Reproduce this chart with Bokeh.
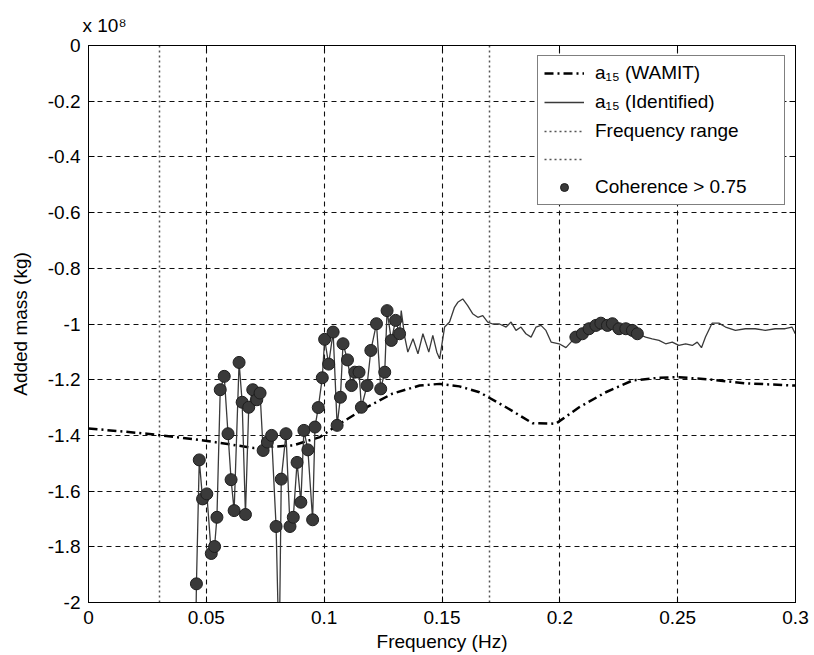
from bokeh.plotting import figure
from bokeh.models import (FixedTicker, LinearAxis, Legend, LegendItem,
                          Range1d, CustomLabelingPolicy)
from bokeh.embed import file_html
from bokeh.resources import INLINE

# ---------------- data (added mass in units of 1e8 kg) ----------------
wamit_freq = [0.0, 0.0248, 0.0488, 0.070, 0.0868, 0.0982, 0.1066, 0.118, 0.129,
              0.1405, 0.149, 0.1574, 0.1659, 0.1772, 0.1884, 0.1983, 0.2082,
              0.2195, 0.2308, 0.2421, 0.2505, 0.2646, 0.2787, 0.3]
wamit_val = [-1.375, -1.394, -1.418, -1.445, -1.436, -1.406, -1.358, -1.299, -1.25,
             -1.221, -1.215, -1.224, -1.245, -1.299, -1.356, -1.358, -1.299,
             -1.245, -1.203, -1.193, -1.191, -1.200, -1.213, -1.221]

ident_freq = [0.0452, 0.0458, 0.0470, 0.0484, 0.0502, 0.0521, 0.0535, 0.0545, 0.0559,
              0.0576, 0.0592, 0.0605, 0.0618, 0.0639, 0.0652, 0.0666, 0.0680, 0.0697,
              0.0714, 0.0728, 0.0741, 0.0759, 0.0777, 0.0796, 0.0809, 0.0818, 0.0838,
              0.0855, 0.0869, 0.0885, 0.0901, 0.0914, 0.0931, 0.0951, 0.0961, 0.0975,
              0.0992, 0.1002, 0.1019, 0.1038, 0.1055, 0.1069, 0.1080, 0.1099, 0.1116,
              0.1130, 0.1148, 0.1158, 0.1182, 0.1198, 0.1222, 0.1240, 0.1257, 0.1267,
              0.1285, 0.1303, 0.1320, 0.1327, 0.1342, 0.1355, 0.1377, 0.1398, 0.1419,
              0.1444, 0.1461, 0.1478, 0.1490, 0.1511, 0.1532, 0.1553, 0.1567, 0.1588,
              0.1609, 0.1630, 0.1652, 0.1673, 0.1694, 0.1715, 0.1744, 0.1772, 0.1793,
              0.1814, 0.1835, 0.1856, 0.1878, 0.1899, 0.1920, 0.1941, 0.1963, 0.1997,
              0.2026, 0.2054, 0.2068, 0.2096, 0.2124, 0.2153, 0.2174, 0.2202, 0.2223,
              0.2251, 0.2280, 0.2308, 0.2329, 0.2364, 0.2392, 0.2421, 0.2449, 0.2477,
              0.2505, 0.2534, 0.2562, 0.2583, 0.2601, 0.2618, 0.2646, 0.2675, 0.2703,
              0.2745, 0.2787, 0.2829, 0.2872, 0.2914, 0.2956, 0.2985, 0.2999]
ident_val = [-2.30, -1.933, -1.488, -1.628, -1.610, -1.824, -1.799, -1.694, -1.236,
             -1.188, -1.394, -1.559, -1.670, -1.138, -1.281, -1.684, -1.299, -1.236,
             -1.272, -1.248, -1.454, -1.424, -1.400, -1.727, -2.20, -1.557, -1.394,
             -1.727, -1.694, -1.497, -1.640, -1.382, -1.452, -1.703, -1.370, -1.300,
             -1.193, -1.055, -1.144, -1.029, -1.364, -1.263, -1.071, -1.129, -1.221,
             -1.173, -1.173, -1.299, -1.221, -1.095, -0.999, -1.233, -1.173, -0.952,
             -1.059, -0.987, -1.035, -0.952, -1.047, -1.101, -1.053, -1.107, -1.035,
             -1.101, -1.041, -1.101, -1.125, -1.011, -0.993, -0.940, -0.922, -0.910,
             -0.934, -0.963, -0.976, -0.970, -0.993, -1.000, -1.000, -1.011, -0.993,
             -1.023, -1.011, -1.035, -1.047, -1.011, -1.005, -1.023, -1.065, -1.071,
             -1.085, -1.059, -1.047, -1.035, -1.017, -1.005, -0.997, -1.005, -0.999,
             -1.017, -1.017, -1.023, -1.035, -1.047, -1.053, -1.059, -1.071, -1.065,
             -1.077, -1.071, -1.077, -1.065, -1.085, -1.047, -0.997, -0.997, -1.011,
             -1.023, -1.017, -1.017, -1.023, -1.017, -1.017, -1.011, -1.035]
# 1 = coherence > 0.75 (marked with a dot)
coherent = [0, 1, 1, 1, 1, 1, 1, 1, 1,
            1, 1, 1, 1, 1, 1, 1, 1, 1,
            1, 1, 1, 1, 1, 1, 0, 1, 1,
            1, 1, 1, 1, 1, 1, 1, 1, 1,
            1, 1, 1, 1, 1, 1, 1, 1, 1,
            1, 1, 1, 1, 1, 1, 1, 1, 1,
            1, 1, 1, 0, 0, 0, 0, 0, 0,
            0, 0, 0, 0, 0, 0, 0, 0, 0,
            0, 0, 0, 0, 0, 0, 0, 0, 0,
            0, 0, 0, 0, 0, 0, 0, 0, 0,
            0, 0, 1, 1, 1, 1, 1, 1, 1,
            1, 1, 1, 1, 0, 0, 0, 0, 0,
            0, 0, 0, 0, 0, 0, 0, 0, 0,
            0, 0, 0, 0, 0, 0, 0, 0]

freq_range = [0.03, 0.17]

x_ticks = [0.0, 0.05, 0.1, 0.15, 0.2, 0.25, 0.3]
x_labels = ["0", "0.05", "0.1", "0.15", "0.2", "0.25", "0.3"]
y_ticks = [-2.0, -1.8, -1.6, -1.4, -1.2, -1.0, -0.8, -0.6, -0.4, -0.2, 0.0]
y_labels = ["-2", "-1.8", "-1.6", "-1.4", "-1.2", "-1", "-0.8", "-0.6", "-0.4", "-0.2", "0"]

FONT = "Liberation Sans"

# ---------------- figure ----------------
p = figure(width=814, height=655, output_backend="svg", toolbar_location=None,
           x_range=Range1d(0, 0.3), y_range=Range1d(-2, 0),
           min_border_left=88, min_border_right=17, min_border_top=45,
           min_border_bottom=53)
p.background_fill_color = "white"
p.border_fill_color = "white"
p.outline_line_color = "black"
p.outline_line_width = 1

p.title.text = "x 10\u2078"
p.title.align = "left"
p.title.offset = -6
p.title.text_font = FONT
p.title.text_font_size = "19px"
p.title.text_font_style = "normal"
p.title.text_color = "black"
p.title.standoff = 3

for ax, ticks, labels in ((p.xaxis[0], x_ticks, x_labels), (p.yaxis[0], y_ticks, y_labels)):
    ax.ticker = FixedTicker(ticks=ticks)
    ax.major_label_overrides = {t: l for t, l in zip(ticks, labels)}
    ax.minor_tick_line_color = None
    ax.major_tick_in = 6
    ax.major_tick_out = 0
    ax.major_label_text_font = FONT
    ax.major_label_text_font_size = "19px"
    ax.major_label_text_color = "black"
    ax.axis_label_text_font = FONT
    ax.axis_label_text_font_size = "19px"
    ax.axis_label_text_font_style = "normal"
    ax.axis_label_text_color = "black"
    ax.axis_line_color = "black"
    ax.major_tick_line_color = "black"

p.xaxis[0].axis_label = "Frequency (Hz)"
p.xaxis[0].major_label_standoff = 8
p.xaxis[0].axis_label_standoff = 4
p.yaxis[0].axis_label = "Added mass (kg)"
p.yaxis[0].major_label_standoff = 8
p.yaxis[0].axis_label_standoff = 14

# tick marks on top and right (box), without labels
no_labels = CustomLabelingPolicy(
    code="for (let i = 0; i < indices.size; i++) { indices.unset(i) } return indices")
for loc, ticks in (("above", x_ticks), ("right", y_ticks)):
    a = LinearAxis(ticker=FixedTicker(ticks=ticks), major_tick_in=6, major_tick_out=0,
                   minor_tick_line_color=None, major_label_policy=no_labels,
                   major_label_text_font_size="8px",
                   major_label_standoff=0, axis_line_color="black")
    p.add_layout(a, loc)

for g, ticks in ((p.xgrid[0], x_ticks), (p.ygrid[0], y_ticks)):
    g.ticker = FixedTicker(ticks=ticks)
    g.grid_line_color = "#111111"
    g.grid_line_dash = "5 4"
    g.grid_line_width = 1.1
    g.grid_line_alpha = 1

# frequency range lines
r_fr1 = p.vspan(x=[freq_range[0]], line_color="#555555", line_width=1.5, line_dash="2 3")
r_fr2 = p.vspan(x=[freq_range[1]], line_color="#555555", line_width=1.5, line_dash="2 3")

# WAMIT
r_w = p.line(wamit_freq, wamit_val, line_color="black", line_width=2.5,
             line_dash="9 4 2 4")

# identified
r_i = p.line(ident_freq, ident_val, line_color="#3a3a3a", line_width=1.3)

cf = [f for f, c in zip(ident_freq, coherent) if c]
cv = [v for v, c in zip(ident_val, coherent) if c]
r_c = p.scatter(cf, cv, size=12, fill_color="#3a3a3a", line_color="#1e1e1e",
                line_width=1)

legend = Legend(items=[
    LegendItem(label="a\u2081\u2085 (WAMIT)", renderers=[r_w]),
    LegendItem(label="a\u2081\u2085 (Identified)", renderers=[r_i]),
    LegendItem(label="Frequency range", renderers=[r_fr1]),
    LegendItem(label=" ", renderers=[r_fr2]),
    LegendItem(label="Coherence > 0.75", renderers=[r_c]),
], location="top_right")
legend.label_text_font = FONT
legend.label_text_font_size = "19px"
legend.label_text_color = "black"
legend.glyph_width = 40
legend.glyph_height = 20
legend.label_height = 20
legend.label_width = 183
legend.label_standoff = 11
legend.spacing = 7
legend.padding = 6
legend.margin = 10
legend.border_line_color = "black"
legend.border_line_width = 1
legend.background_fill_color = "white"
legend.background_fill_alpha = 1
p.add_layout(legend)

open("out.html", "w").write(file_html(p, INLINE))
